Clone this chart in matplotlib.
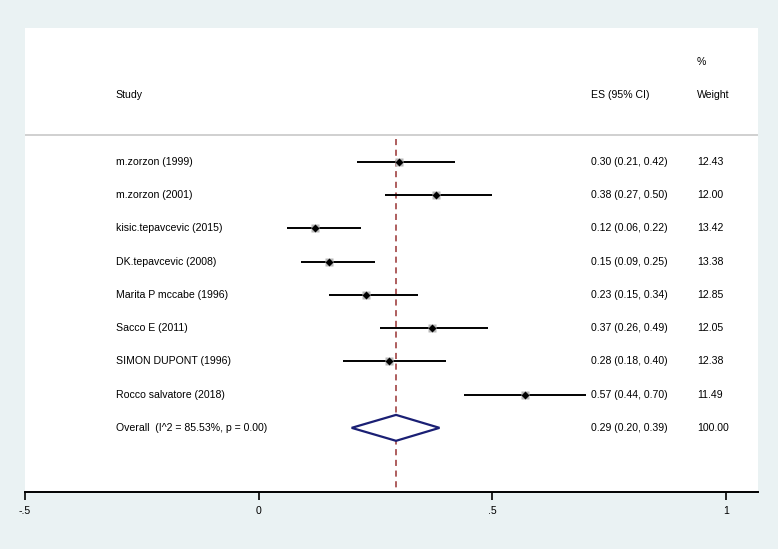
import matplotlib
matplotlib.use('Agg')
import matplotlib.pyplot as plt
import numpy as np

plt.rcParams['font.family'] = ['Liberation Sans', 'DejaVu Sans']

# ─────────────────────────────────────────────
# Data
# ─────────────────────────────────────────────
studies = ['m.zorzon (1999)', 'm.zorzon (2001)', 'kisic.tepavcevic (2015)',
           'DK.tepavcevic (2008)', 'Marita P mccabe (1996)', 'Sacco E (2011)',
           'SIMON DUPONT (1996)', 'Rocco salvatore (2018)']
es      = [0.30, 0.38, 0.12, 0.15, 0.23, 0.37, 0.28, 0.57]
ci_low  = [0.21, 0.27, 0.06, 0.09, 0.15, 0.26, 0.18, 0.44]
ci_high = [0.42, 0.50, 0.22, 0.25, 0.34, 0.49, 0.40, 0.70]
weights = [12.43, 12.00, 13.42, 13.38, 12.85, 12.05, 12.38, 11.49]

overall_label = 'Overall  (I^2 = 85.53%, p = 0.00)'
overall_es, overall_low, overall_high = 0.294, 0.199, 0.387
overall_weight = 100.00

xticks = [-0.5, 0, 0.5, 1]
xtick_labels = ['-.5', '0', '.5', '1']

# ─────────────────────────────────────────────
# Layout
# ─────────────────────────────────────────────
W, H = 778, 549
fig = plt.figure(figsize=(W / 100, H / 100), dpi=100)
fig.patch.set_facecolor('#eaf2f3')

left, right, top, bottom = 25, 758, 28, 492
ax = fig.add_axes([left / W, 1 - bottom / H, (right - left) / W, (bottom - top) / H])
ax.set_facecolor('white')

x_right = -0.5 + (right - left) / 467.3
ax.set_xlim(-0.5, x_right)
ax.set_ylim(10.93, -3.03)

fs = 7.6
col_study = -0.306
col_es = 0.711
col_w = 0.938

# header
ax.text(col_study, -1, 'Study', fontsize=fs, va='center', ha='left')
ax.text(col_es, -1, 'ES (95% CI)', fontsize=fs, va='center', ha='left')
ax.text(col_w, -1, 'Weight', fontsize=fs, va='center', ha='left')
ax.text(col_w, -2, '%', fontsize=fs, va='center', ha='left')
ax.axhline(0.2, color='#c8c8c8', lw=1.2, zorder=1)

# overall dashed line
ax.plot([overall_es, overall_es], [0.3, 10.93], color='#983232', lw=1.1,
        dashes=(4, 3), zorder=2)

rows = np.arange(1, len(studies) + 1)
for y, name, e, lo, hi, w in zip(rows, studies, es, ci_low, ci_high, weights):
    ax.plot([lo, hi], [y, y], color='black', lw=1.4, zorder=3,
            solid_capstyle='butt')
    ax.plot(e, y, marker='s', ms=np.sqrt(w) * 1.6, color='#b8b8b8',
            mec='none', zorder=4)
    ax.plot(e, y, marker='D', ms=3.6, color='black', mec='none', zorder=5)
    ax.text(col_study, y, name, fontsize=fs, va='center', ha='left')
    ax.text(col_es, y, f'{e:.2f} ({lo:.2f}, {hi:.2f})', fontsize=fs,
            va='center', ha='left')
    ax.text(col_w, y, f'{w:.2f}', fontsize=fs, va='center', ha='left')

# overall diamond
yo = len(studies) + 1
half = 0.39
ax.fill([overall_low, overall_es, overall_high, overall_es],
        [yo, yo - half, yo, yo + half], facecolor='white',
        edgecolor='#1a1f74', lw=1.6, zorder=4)
ax.text(col_study, yo, overall_label, fontsize=fs, va='center', ha='left')
ax.text(col_es, yo, f'{overall_es:.2f} ({overall_low:.2f}, {overall_high:.2f})',
        fontsize=fs, va='center', ha='left')
ax.text(col_w, yo, f'{overall_weight:.2f}', fontsize=fs, va='center', ha='left')

# axes styling
for s in ['top', 'right', 'left']:
    ax.spines[s].set_visible(False)
ax.spines['bottom'].set_linewidth(1.4)
ax.set_yticks([])
ax.set_xticks(xticks)
ax.set_xticklabels(xtick_labels, fontsize=fs)
ax.tick_params(axis='x', direction='out', length=6, width=1.2, pad=4)

fig.savefig('out.png', dpi=100, facecolor=fig.get_facecolor())
